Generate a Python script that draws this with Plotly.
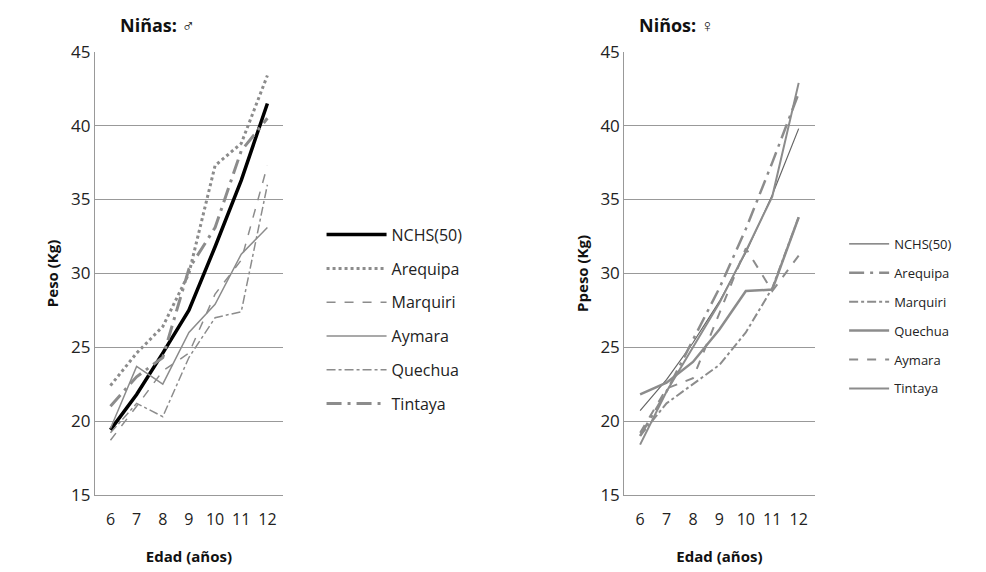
import plotly.graph_objects as go

ages = [6, 7, 8, 9, 10, 11, 12]
g_names = ["NCHS(50)", "Arequipa", "Marquiri", "Aymara", "Quechua", "Tintaya"]
g_nchs = [19.4, 21.8, 24.6, 27.5, 31.8, 36.3, 41.5]
g_areq = [22.4, 24.6, 26.4, 30.0, 37.3, 38.8, 43.4]
g_marq = [18.7, 21.0, 23.4, 24.6, 28.6, 30.9, 37.3]
g_aym = [19.5, 23.7, 22.5, 26.0, 27.9, 31.3, 33.1]
g_que = [19.2, 21.2, 20.3, 24.3, 27.0, 27.4, 36.0]
g_tin = [21.0, 23.0, 24.3, 30.3, 33.1, 38.3, 40.5]

b_names = ["NCHS(50)", "Arequipa", "Marquiri", "Quechua", "Aymara", "Tintaya"]
b_nchs = [20.7, 22.8, 25.3, 28.1, 31.4, 35.3, 39.8]
b_areq = [19.0, 22.0, 25.5, 29.0, 33.0, 37.5, 42.2]
b_marq = [19.0, 21.2, 22.5, 23.8, 26.0, 29.0, 33.8]
b_que = [21.8, 22.6, 24.0, 26.2, 28.8, 28.9, 33.8]
b_aym = [19.2, 22.2, 22.9, 27.3, 31.7, 28.8, 31.2]
b_tin = [18.4, 22.0, 25.0, 28.0, 31.5, 35.2, 42.9]

G = "#8c8c8c"
fig = go.Figure()
g_styles = [("black", 3.5, "solid"), (G, 3, "dot"), (G, 1.5, "dash"),
            (G, 1.5, "solid"), (G, 1.5, "dashdot"), (G, 3, "longdashdot")]
for n, v, (c, w, d) in zip(g_names, [g_nchs, g_areq, g_marq, g_aym, g_que, g_tin], g_styles):
    fig.add_trace(go.Scatter(x=ages, y=v, name=n, mode="lines", xaxis="x", yaxis="y",
                             legendgroup="g" + n, line=dict(color=c, width=w, dash=d), legend="legend"))
b_styles = [("#666666", 1.2, "solid"), (G, 2.5, "longdashdot"), (G, 2, "dashdot"),
            (G, 2.5, "solid"), (G, 2, "dash"), (G, 2, "solid")]
for n, v, (c, w, d) in zip(b_names, [b_nchs, b_areq, b_marq, b_que, b_aym, b_tin], b_styles):
    fig.add_trace(go.Scatter(x=ages, y=v, name=n, mode="lines", xaxis="x2", yaxis="y2",
                             legendgroup="b" + n, line=dict(color=c, width=w, dash=d), legend="legend2"))

ax = dict(range=[5.4, 12.6], tickvals=ages, showgrid=False, showline=True, linecolor="#999",
          ticks="", ticklabelstandoff=10, tickfont=dict(family="Open Sans", size=16, color="#222"), zeroline=False)
ay = dict(range=[15, 45], dtick=5, showgrid=True, gridcolor="#999", showline=True, linecolor="#999",
          tickfont=dict(family="Open Sans", size=17, color="#222"), zeroline=False, ticks="")
tf = dict(family="Open Sans", size=15, color="#111")
fig.update_layout(
    width=986, height=572, margin=dict(l=0, r=0, t=0, b=0),
    plot_bgcolor="white", paper_bgcolor="white",
    xaxis=dict(ax, domain=[0.088, 0.279], anchor="y",
               title=dict(text="<b>Edad (años)</b>", font=tf, standoff=22)),
    yaxis=dict(ay, domain=[0.135, 0.942], anchor="x",
               title=dict(text="<b>Peso (Kg)</b>", font=tf, standoff=8)),
    xaxis2=dict(ax, domain=[0.625, 0.818], anchor="y2",
                title=dict(text="<b>Edad (años)</b>", font=tf, standoff=22)),
    yaxis2=dict(ay, domain=[0.135, 0.942], anchor="x2",
                title=dict(text="<b>Ppeso (Kg)</b>", font=tf, standoff=8)),
    legend=dict(x=0.318, y=0.455, yanchor="middle", xanchor="left", tracegroupgap=10,
                font=dict(family="Open Sans", size=16, color="#222"), itemwidth=60),
    legend2=dict(x=0.848, y=0.46, yanchor="middle", xanchor="left", tracegroupgap=9,
                 font=dict(family="Open Sans", size=13, color="#222"), itemwidth=40),
    annotations=[
        dict(text="<b>Niñas:</b> ♂", x=0.112, y=0.99, xref="paper", yref="paper", yanchor="middle",
             showarrow=False, xanchor="left", font=dict(family="Open Sans", size=18, color="#111")),
        dict(text="<b>Niños:</b> ♀", x=0.638, y=0.99, xref="paper", yref="paper", yanchor="middle",
             showarrow=False, xanchor="left", font=dict(family="Open Sans", size=18, color="#111")),
    ],
)
fig.write_html("out.html")
